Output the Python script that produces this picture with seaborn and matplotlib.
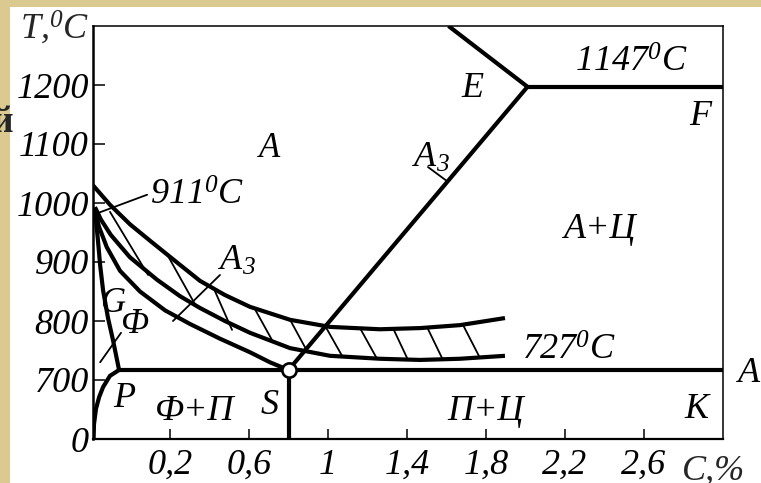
import numpy as np
import pandas as pd
import matplotlib
matplotlib.use("Agg")
import matplotlib.pyplot as plt
import seaborn as sns
from matplotlib.patches import Rectangle

# ---- phase boundaries: carbon content (%) vs temperature (deg C) ----
gp_c = [-0.180, -0.165, -0.154, -0.139, -0.114, -0.089, -0.058]
gp_t = [988, 937, 895, 852, 805, 768, 717]

pq_c = [-0.187, -0.185, -0.175, -0.159, -0.139, -0.104, -0.058]
pq_t = [600, 625, 651, 671, 688, 707, 717]

gs_c = [-0.180, -0.160, -0.120, -0.053, 0.048, 0.175, 0.301, 0.453, 0.605, 0.706, 0.80]
gs_t = [988, 960, 925, 885, 850, 818, 795, 770, 747, 730, 717]

band_hi_c = [-0.190, -0.104, -0.003, 0.099, 0.225, 0.352, 0.478, 0.605,
             0.808, 1.010, 1.263, 1.466, 1.668, 1.896]
band_hi_t = [1030, 997, 964, 936, 902, 868, 844, 824, 802, 790, 786, 788, 793, 805]

band_lo_c = [-0.180, -0.150, -0.100, -0.003, 0.134, 0.251, 0.352, 0.478, 0.605,
             0.808, 1.010, 1.263, 1.466, 1.668, 1.896]
band_lo_t = [993, 972, 946, 908, 870, 842, 822, 800, 780, 754, 741, 736, 734, 736, 741]

psk_c, psk_t = [-0.058, 3.0], [717, 717]
s_vert_c, s_vert_t = [0.80, 0.80], [717, 600]
es_c, es_t = [0.80, 2.01], [717, 1197]
ef_c, ef_t = [2.01, 3.0], [1197, 1197]
liq_c, liq_t = [2.01, 1.61], [1197, 1300]

# hatching between the two band curves (top end -> bottom end)
hatch_c_top = [-0.104, 0.190, 0.423, 0.630, 0.808, 0.985, 1.162, 1.329, 1.501, 1.684]
hatch_t_top = [985, 910, 854, 820, 802, 792, 788, 788, 790, 793]
hatch_c_bot = [0.089, 0.332, 0.514, 0.716, 0.894, 1.071, 1.248, 1.405, 1.582, 1.770]
hatch_t_bot = [878, 825, 785, 768, 749, 741, 736, 734, 734, 737]

# leader lines for labels
lead_911 = ([-0.165, 0.084], [983, 1014])
lead_a3_up = ([1.506, 1.607], [1061, 1036])
lead_a3_lo = ([0.453, 0.215], [878, 800])
lead_f = ([-0.048, -0.154], [780, 730])

eutectoid_c, eutectoid_t = [0.80], [717]

x_ticks = [0.2, 0.6, 1.0, 1.4, 1.8, 2.2, 2.6]
x_labels = ["0,2", "0,6", "1", "1,4", "1,8", "2,2", "2,6"]
y_ticks = [600, 700, 800, 900, 1000, 1100, 1200]
y_labels = ["0", "700", "800", "900", "1000", "1100", "1200"]

# ---- style ----
sns.set_theme(style="white")
plt.rcParams["font.family"] = ["Liberation Serif", "DejaVu Serif"]
plt.rcParams["font.style"] = "italic"
plt.rcParams["mathtext.fontset"] = "custom"
plt.rcParams["mathtext.it"] = "Liberation Serif:italic"
plt.rcParams["mathtext.rm"] = "Liberation Serif:italic"
plt.rcParams["mathtext.default"] = "it"

W, H = 761, 483
fig = plt.figure(figsize=(W / 100, H / 100), dpi=100)
fig.patch.set_facecolor("white")
beige = "#dbca90"
fig.patches.append(Rectangle((0, 0), 10 / W, 1, transform=fig.transFigure,
                             facecolor=beige, edgecolor="none", zorder=0))
fig.patches.append(Rectangle((0, 1 - 7 / H), 1, 7 / H, transform=fig.transFigure,
                             facecolor=beige, edgecolor="none", zorder=0))

ax = fig.add_axes([93 / W, 44 / H, 630 / W, 413 / H])
ax.set_xlim(-0.19, 3.0)
ax.set_ylim(600, 1300)


def long_table(curves):
    rows = []
    for name, (cs, ts) in curves.items():
        for i, (c, t) in enumerate(zip(cs, ts)):
            rows.append({"curve": name, "order": i, "C": c, "T": t})
    return pd.DataFrame(rows)


thick = long_table({
    "GP": (gp_c, gp_t), "PQ": (pq_c, pq_t), "GS": (gs_c, gs_t),
    "band_hi": (band_hi_c, band_hi_t), "band_lo": (band_lo_c, band_lo_t),
    "PSK": (psk_c, psk_t), "S": (s_vert_c, s_vert_t), "ES": (es_c, es_t),
    "EF": (ef_c, ef_t), "liq": (liq_c, liq_t),
})
thin_curves = {f"h{i}": ([a, b], [c, d]) for i, (a, c, b, d) in
               enumerate(zip(hatch_c_top, hatch_t_top, hatch_c_bot, hatch_t_bot))}
thin_curves.update({"l911": lead_911, "la3u": lead_a3_up,
                    "la3l": lead_a3_lo, "lf": lead_f})
thin = long_table(thin_curves)

sns.lineplot(data=thick, x="C", y="T", units="curve", estimator=None, sort=False,
             color="black", linewidth=3.0, ax=ax, solid_joinstyle="round",
             solid_capstyle="butt")
sns.lineplot(data=thin, x="C", y="T", units="curve", estimator=None, sort=False,
             color="black", linewidth=1.3, ax=ax)
sns.scatterplot(x=eutectoid_c, y=eutectoid_t, s=105, color="white",
                edgecolor="black", linewidth=1.9, ax=ax, zorder=5)

# ---- axes ----
ax.set_xlabel("")
ax.set_ylabel("")
ax.set_xticks(x_ticks)
ax.set_xticklabels(x_labels)
ax.set_yticks(y_ticks)
ax.set_yticklabels(y_labels)
ax.tick_params(axis="y", direction="in", length=8.5, width=1.1, pad=3.0,
               labelsize=26, colors="black", left=True)
ax.tick_params(axis="x", direction="in", length=7, width=1.1, pad=7,
               labelsize=26, colors="black", bottom=True)
for lbl in ax.get_xticklabels() + ax.get_yticklabels():
    lbl.set_fontstyle("italic")
for side, lw in [("left", 1.8), ("bottom", 1.6), ("top", 1.1), ("right", 1.1)]:
    ax.spines[side].set_visible(True)
    ax.spines[side].set_color("black")
    ax.spines[side].set_linewidth(lw)

# ---- labels ----
def label(x, y, s, size=26, ha="center"):
    ax.text(x, y, s, fontsize=size, ha=ha, va="baseline", color="black",
            fontstyle="italic", clip_on=False)


label(0.706, 1078, "A", size=25)
label(0.099, 997, "911$^0$C", ha="left")
label(1.729, 1180, "E")
label(2.25, 1222, "1147$^0$C", ha="left")
label(2.883, 1132, "F")
label(1.425, 1061, "A$_3$", ha="left")
label(2.377, 941, "A+Ц")
label(0.443, 886, "A$_3$", ha="left")
label(-0.089, 815, "G", size=25)
label(0.023, 780, "Ф", size=25)
label(-0.033, 654, "P")
label(0.327, 632, "Ф+П", size=26)
label(0.706, 642, "S")
label(1.80, 632, "П+Ц")
label(2.868, 636, "K")
label(1.982, 734, "727$^0$C", ha="left")
label(3.075, 697, "A", ha="left")

fig.text(20 / W, 1 - 39 / H, "T,$^0$C", fontsize=26, ha="left", va="baseline",
         fontstyle="italic")
fig.text(682 / W, 1 - 480 / H, "C,%", fontsize=26, ha="left", va="baseline",
         fontstyle="italic")
fig.text(-8 / W, 1 - 132 / H, "й", fontsize=27, ha="left", va="baseline",
         fontweight="bold", fontstyle="normal")

fig.savefig("out.png", dpi=100)
